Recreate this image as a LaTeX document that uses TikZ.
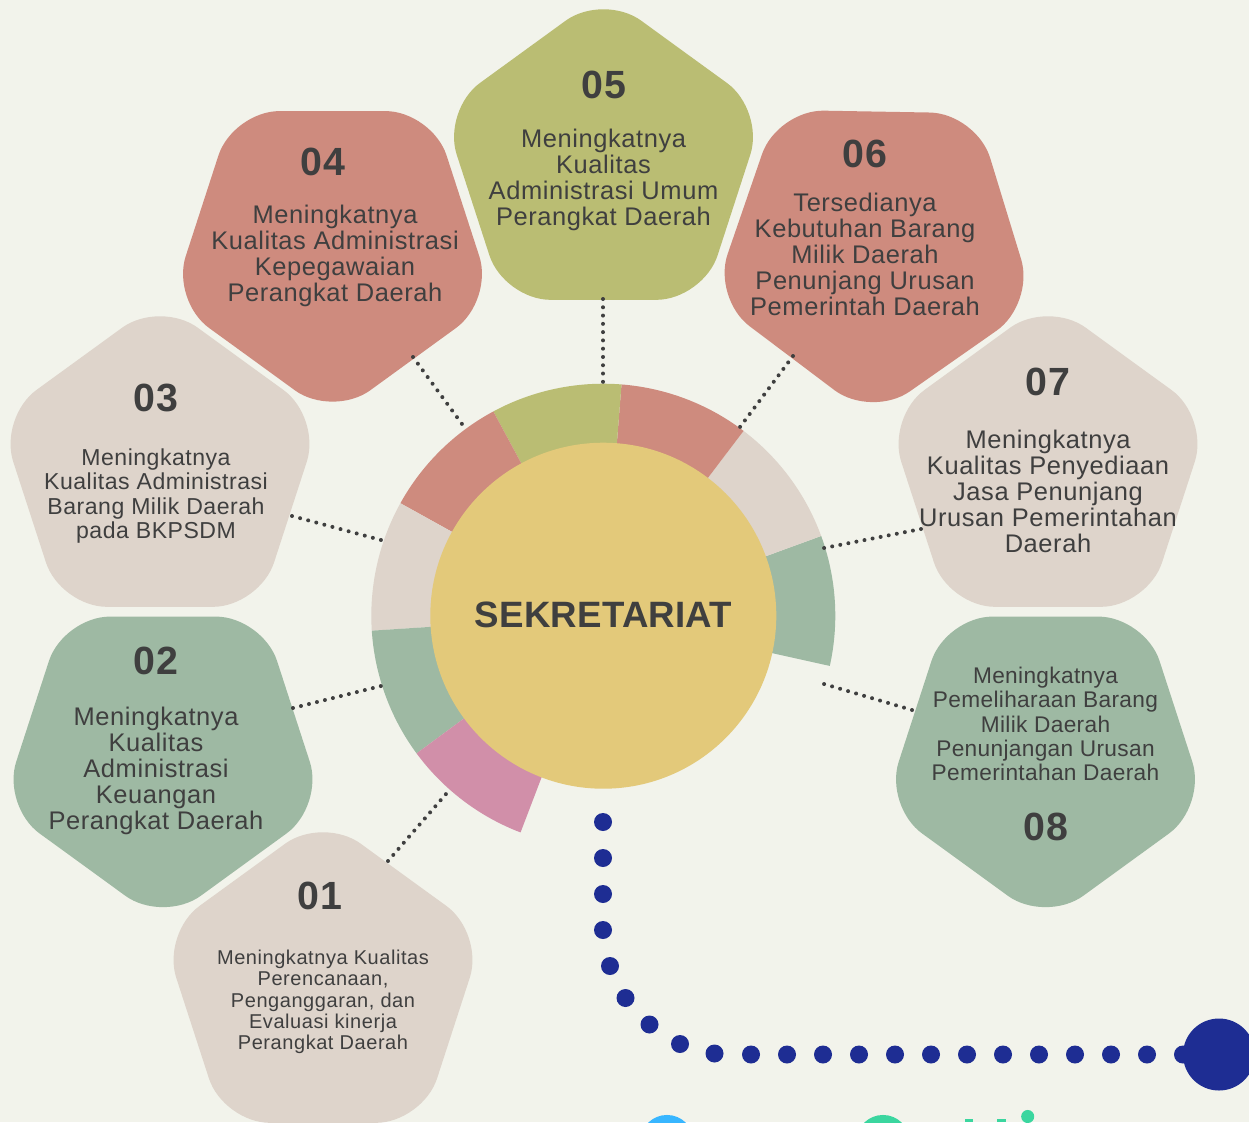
\documentclass[tikz,border=0pt]{standalone}
\usepackage{fontspec}
\setmainfont{Liberation Sans}
\newfontfamily\lsA[LetterSpace=2.3]{Liberation Sans}
\newfontfamily\lsB[LetterSpace=2.2]{Liberation Sans}
\newfontfamily\lsC[LetterSpace=1.5]{Liberation Sans}
\newfontfamily\lsD[LetterSpace=2.8]{Liberation Sans}
\newfontfamily\lsN[LetterSpace=3]{Liberation Sans}
\newfontfamily\lsT[LetterSpace=0.6]{Liberation Sans}
\definecolor{bg}{HTML}{F2F3EB}
\definecolor{olive}{HTML}{BABD73}
\definecolor{rose}{HTML}{CE8B7E}
\definecolor{beige}{HTML}{DED4CB}
\definecolor{sage}{HTML}{9EB9A3}
\definecolor{pinkish}{HTML}{D18FA9}
\definecolor{gold}{HTML}{E3C97A}
\definecolor{navy}{HTML}{1E2D93}
\definecolor{ink}{HTML}{3F3F3F}
\definecolor{sky}{HTML}{38B6FF}
\definecolor{mint}{HTML}{3BD69F}
\newcommand{\pent}[4]{% cx cy rot colour
  \fill[#4,rounded corners=35pt]
    ({#1+137*cos(#3+54)},{#2-137*sin(#3+54)})
    -- ({#1+169.5*cos(#3+90)},{#2-169.5*sin(#3+90)})
    -- ({#1+169.5*cos(#3+162)},{#2-169.5*sin(#3+162)})
    -- ({#1+169.5*cos(#3+234)},{#2-169.5*sin(#3+234)})
    -- ({#1+169.5*cos(#3+306)},{#2-169.5*sin(#3+306)})
    -- ({#1+169.5*cos(#3+378)},{#2-169.5*sin(#3+378)})
    -- cycle;}
\newcommand{\ringpart}[3]{% start end colour
  \fill[#3] (603.3,615.7) -- ({603.3+232*cos(#1)},{615.7-232*sin(#1)})
    arc[start angle=#1,end angle=#2,radius=174pt] -- cycle;}
\tikzset{
  x=0.75pt,y=-0.75pt,
  body/.style={text=ink,align=center,inner sep=0pt,font=\lsA\fontsize{19.1}{19.5}\selectfont},
  bodyB/.style={body,font=\lsB\fontsize{17.3}{18.3}\selectfont},
  bodyC/.style={body,font=\lsC\fontsize{17}{18.2}\selectfont},
  bodyD/.style={body,font=\lsD\fontsize{15}{16}\selectfont},
  num/.style={text=ink,inner sep=0pt,font=\lsN\bfseries\fontsize{29.5}{29.5}\selectfont},
  link/.style={draw=ink,line width=3pt,line cap=round},
  bead/.style={circle,fill=navy,minimum size=13.5pt,inner sep=0pt},
}
\begin{document}
\begin{tikzpicture}
\useasboundingbox (0,0) rectangle (1249,1122);
\clip (0,0) rectangle (1249,1122);
\fill[bg] (0,0) rectangle (1249,1122);
% pentagons
\pent{603.5}{162.7}{0}{olive}
\pent{332.5}{248.2}{180}{rose}
\pent{874.5}{248.7}{179}{rose}
\pent{160}{469.7}{0}{beige}
\pent{1048}{469.7}{0}{beige}
\pent{163}{753.7}{180}{sage}
\pent{1045.5}{753.7}{180}{sage}
\pent{323}{985.7}{0}{beige}
% ring
\ringpart{-12.5}{20.1}{sage}
\ringpart{20.1}{52.8}{beige}
\ringpart{52.8}{85.5}{rose}
\ringpart{85.5}{118.3}{olive}
\ringpart{118.3}{151}{rose}
\ringpart{151}{183.7}{beige}
\ringpart{183.7}{216.4}{sage}
\ringpart{216.4}{249.1}{pinkish}
\node[circle,fill=gold,minimum size=259.5pt,inner sep=0pt] (hub) at (603.3,615.7) {};
\node[text=ink,inner sep=0pt,font=\lsT\bfseries\fontsize{27.5}{27.5}\selectfont] (title) at (603.5,615) {SEKRETARIAT};
% dotted connectors
\coordinate (a5) at (603,299); \coordinate (b5) at (603,382);
\coordinate (a4) at (413,357); \coordinate (b4) at (462,424);
\coordinate (a6) at (793,356); \coordinate (b6) at (740,427);
\coordinate (a3) at (292,516); \coordinate (b3) at (381,540);
\coordinate (a7) at (921,529); \coordinate (b7) at (824,548);
\coordinate (a2) at (293,708); \coordinate (b2) at (381,686);
\coordinate (a8) at (912,710); \coordinate (b8) at (824,684);
\coordinate (a1) at (388,861); \coordinate (b1) at (446,794);
\foreach \k/\gap in {5/6.21,4/6.21,6/6.03,3/6.28,7/6.17,2/6.17,8/6.25,1/6.03}{
  \draw[link,dash pattern=on 0pt off \gap pt] (a\k) -- (b\k);}
% numbers
\node[num] (n05) at (603.5,85) {05};
\node[num] (n04) at (323,162) {04};
\node[num] (n06) at (865,154) {06};
\node[num] (n07) at (1047.5,382) {07};
\node[num] (n03) at (156,398) {03};
\node[num] (n02) at (156,661) {02};
\node[num] (n01) at (320,896) {01};
\node[num] (n08) at (1045.5,827) {08};
% texts
\node[body] (t05) at (603.5,180) {Meningkatnya\\Kualitas\\Administrasi Umum\\Perangkat Daerah};
\node[body] (t04) at (335,256) {Meningkatnya\\Kualitas Administrasi\\Kepegawaian\\Perangkat Daerah};
\node[body] (t06) at (865,254) {Tersedianya\\Kebutuhan Barang\\Milik Daerah\\Penunjang Urusan\\Pemerintah Daerah};
\node[body] (t07) at (1048,491) {Meningkatnya\\Kualitas Penyediaan\\Jasa Penunjang\\Urusan Pemerintahan\\Daerah};
\node[body] (t02) at (156,771) {Meningkatnya\\Kualitas\\Administrasi\\Keuangan\\Perangkat Daerah};
\node[bodyB] (t03) at (156,496) {Meningkatnya\\Kualitas Administrasi\\Barang Milik Daerah\\pada BKPSDM};
\node[bodyC] (t08) at (1045.5,724) {Meningkatnya\\Pemeliharaan Barang\\Milik Daerah\\Penunjangan Urusan\\Pemerintahan Daerah};
\node[bodyD] (t01) at (323,1002) {Meningkatnya Kualitas\\Perencanaan,\\Penganggaran, dan\\Evaluasi kinerja\\Perangkat Daerah};
% beaded trail
\node[bead,minimum size=54pt] (big) at (1219,1054.5) {};
\foreach \i/\p in {1/{603,822},2/{603,858},3/{603,894},4/{603,930},5/{610,966},6/{625.5,998},7/{649.5,1024.5},8/{680,1044},9/{714.5,1053.5},10/{751,1054.5},11/{787,1054.5},12/{823,1054.5},13/{859,1054.5},14/{895,1054.5},15/{931,1054.5},16/{967,1054.5},17/{1003,1054.5},18/{1039,1054.5},19/{1075,1054.5},20/{1111,1054.5},21/{1147,1054.5},22/{1183,1054.5}}{
  \node[bead] (d\i) at (\p) {};}
% cropped marks at the bottom edge
\fill[sky] (667,1141.6) circle[radius=20pt];
\fill[mint] (883,1141.6) circle[radius=20pt];
\fill[mint] (965,1119) rectangle (973,1122);
\fill[mint] (997,1119) rectangle (1006,1122);
\fill[mint] (1027.7,1116.5) circle[radius=4.9pt];
\end{tikzpicture}
\end{document}
